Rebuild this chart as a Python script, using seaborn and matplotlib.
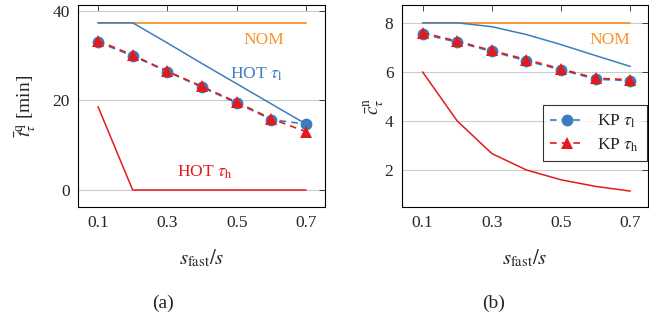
import matplotlib
matplotlib.use('Agg')
import matplotlib.pyplot as plt
import seaborn as sns

# Data
s_ratio = [0.1, 0.2, 0.3, 0.4, 0.5, 0.6, 0.7]

# (a) mean waiting time [min]
t_nom = [37.3, 37.3, 37.3, 37.3, 37.3, 37.3, 37.3]
t_hot_l = [37.3, 37.3, 32.8, 28.2, 23.7, 19.2, 14.7]
t_hot_h = [18.6, 0.0, 0.0, 0.0, 0.0, 0.0, 0.0]
t_kp_l = [33.0, 29.9, 26.4, 22.9, 19.4, 15.7, 14.7]
t_kp_h = [33.3, 30.1, 26.5, 23.1, 19.6, 15.9, 13.0]

# (b) mean number of chargers
c_nom = [8.0, 8.0, 8.0, 8.0, 8.0, 8.0, 8.0]
c_hot_l = [8.0, 8.0, 7.84, 7.52, 7.11, 6.66, 6.22]
c_hot_h = [6.0, 4.0, 2.67, 2.0, 1.6, 1.33, 1.14]
c_kp_l = [7.54, 7.21, 6.83, 6.45, 6.08, 5.70, 5.64]
c_kp_h = [7.60, 7.25, 6.87, 6.50, 6.12, 5.74, 5.68]

BLUE = '#3b7ebf'
ORANGE = '#f7952b'
RED = '#e31a1c'

sns.set_style('white')
plt.rcParams['font.family'] = ['Liberation Serif', 'DejaVu Serif']
plt.rcParams['mathtext.fontset'] = 'stix'
plt.rcParams['font.size'] = 12

fig = plt.figure(figsize=(6.49, 3.24), dpi=100)
ax1 = fig.add_axes([0.120, 0.361, 0.381, 0.624])
ax2 = fig.add_axes([0.619, 0.361, 0.379, 0.624])


def draw(ax, nom, hot_l, hot_h, kp_l, kp_h):
    sns.lineplot(x=s_ratio, y=nom, ax=ax, color=ORANGE, lw=1.3)
    sns.lineplot(x=s_ratio, y=hot_l, ax=ax, color=BLUE, lw=1.1)
    sns.lineplot(x=s_ratio, y=hot_h, ax=ax, color=RED, lw=1.1)
    sns.lineplot(x=s_ratio, y=kp_l, ax=ax, color=BLUE, lw=1.2,
                 linestyle=(0, (4, 3)), marker='o', markersize=8.5,
                 markeredgewidth=0, label=r'KP $\tau_\mathrm{l}$')
    sns.lineplot(x=s_ratio, y=kp_h, ax=ax, color=RED, lw=1.2,
                 linestyle=(0, (4, 3)), marker='^', markersize=8,
                 markeredgewidth=0, label=r'KP $\tau_\mathrm{h}$')
    ax.set_xticks([0.1, 0.3, 0.5, 0.7])
    ax.set_xticklabels(['0.1', '0.3', '0.5', '0.7'])
    ax.tick_params(direction='in', top=True, right=True, length=4,
                   width=0.6, labelsize=12.5, pad=6)
    ax.yaxis.grid(True, color='#cccccc', lw=0.8)
    ax.set_axisbelow(True)
    for sp in ax.spines.values():
        sp.set_color('black')
        sp.set_linewidth(0.8)
    ax.set_xlabel(r'$s_{\mathrm{fast}}/s$', fontsize=15, labelpad=12)


draw(ax1, t_nom, t_hot_l, t_hot_h, t_kp_l, t_kp_h)
ax1.set_xlim(0.042, 0.755)
ax1.set_ylim(-3.8, 41.3)
ax1.set_yticks([0, 20, 40])
ax1.set_ylabel(r'$\bar{t}^{\mathrm{q}}_{\tau}$ [min]', fontsize=14, labelpad=10)
ax1.legend_.remove()
ax1.text(0.578, 33.4, 'NOM', color=ORANGE, ha='center', va='center', fontsize=12.5)
ax1.text(0.555, 25.9, r'HOT $\tau_\mathrm{l}$', color=BLUE, ha='center', va='center', fontsize=12.5)
ax1.text(0.408, 3.9, r'HOT $\tau_\mathrm{h}$', color=RED, ha='center', va='center', fontsize=12.5)

draw(ax2, c_nom, c_hot_l, c_hot_h, c_kp_l, c_kp_h)
ax2.set_xlim(0.04, 0.75)
ax2.set_ylim(0.49, 8.73)
ax2.set_yticks([2, 4, 6, 8])
ax2.set_ylabel(r'$\bar{c}^{\mathrm{n}}_{\tau}$', fontsize=14, labelpad=-2)
ax2.text(0.642, 7.29, 'NOM', color=ORANGE, ha='center', va='center', fontsize=12.5)
leg = ax2.legend(loc='upper left', bbox_to_anchor=(0.573, 0.505), fontsize=12.5,
                 frameon=True, fancybox=False, edgecolor='black',
                 handlelength=1.9, handletextpad=0.8, borderpad=0.45,
                 labelspacing=0.35, borderaxespad=0)
leg.get_frame().set_linewidth(0.8)

fig.text(0.251, 0.065, '(a)', ha='center', va='center', fontsize=14)
fig.text(0.76, 0.065, '(b)', ha='center', va='center', fontsize=14)

fig.savefig('out.png', dpi=100)
